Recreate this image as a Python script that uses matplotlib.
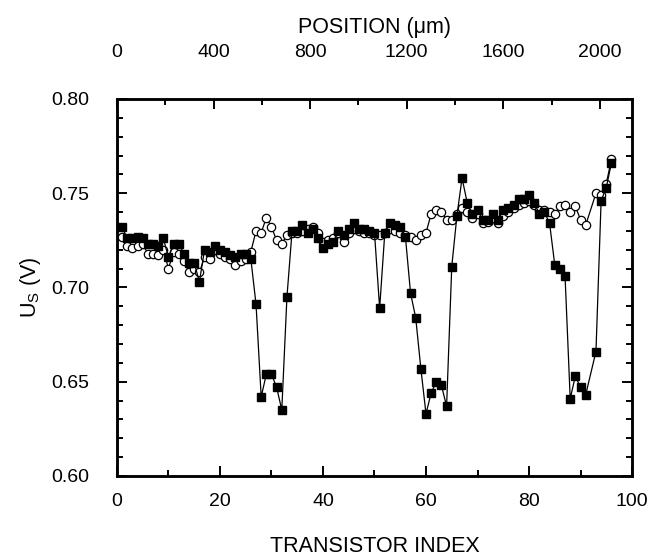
import matplotlib
matplotlib.use("Agg")
from matplotlib import pyplot as plt
from matplotlib.ticker import MultipleLocator

plt.rcParams['font.family'] = ['Liberation Sans', 'DejaVu Sans']
plt.rcParams['mathtext.fontset'] = 'custom'
plt.rcParams['mathtext.rm'] = 'Liberation Sans'

# transistor index (no measurement at 92)
index = list(range(1, 92)) + [93, 94, 95, 96]

# filled squares
us_filled = [
    0.732, 0.726, 0.726, 0.727, 0.726, 0.723, 0.723, 0.722, 0.726, 0.716,
    0.723, 0.723, 0.718, 0.713, 0.713, 0.703, 0.720, 0.719, 0.722, 0.720,
    0.719, 0.717, 0.716, 0.718, 0.718, 0.715, 0.691, 0.642, 0.654, 0.654,
    0.647, 0.635, 0.695, 0.730, 0.730, 0.733, 0.729, 0.731, 0.726, 0.721,
    0.723, 0.724, 0.730, 0.728, 0.731, 0.734, 0.731, 0.731, 0.730, 0.729,
    0.689, 0.729, 0.734, 0.733, 0.732, 0.727, 0.697, 0.684, 0.657, 0.633,
    0.644, 0.650, 0.648, 0.637, 0.711, 0.738, 0.758, 0.745, 0.739, 0.741,
    0.736, 0.736, 0.739, 0.736, 0.741, 0.742, 0.744, 0.747, 0.747, 0.749,
    0.745, 0.739, 0.740, 0.734, 0.712, 0.710, 0.706, 0.641, 0.653, 0.647,
    0.643, 0.666, 0.746, 0.753, 0.766,
]

# open circles
us_open = [
    0.727, 0.722, 0.721, 0.722, 0.723, 0.718, 0.718, 0.717, 0.720, 0.710,
    0.719, 0.718, 0.714, 0.708, 0.710, 0.708, 0.716, 0.715, 0.720, 0.718,
    0.716, 0.715, 0.712, 0.714, 0.715, 0.719, 0.730, 0.729, 0.737, 0.732,
    0.725, 0.723, 0.728, 0.729, 0.729, 0.730, 0.731, 0.732, 0.729, 0.724,
    0.725, 0.726, 0.729, 0.724, 0.729, 0.731, 0.730, 0.729, 0.729, 0.728,
    0.728, 0.729, 0.731, 0.730, 0.729, 0.728, 0.727, 0.725, 0.728, 0.729,
    0.739, 0.741, 0.740, 0.736, 0.736, 0.739, 0.742, 0.740, 0.737, 0.739,
    0.734, 0.735, 0.737, 0.734, 0.738, 0.740, 0.742, 0.744, 0.745, 0.746,
    0.744, 0.741, 0.741, 0.740, 0.739, 0.743, 0.744, 0.740, 0.743, 0.736,
    0.733, 0.750, 0.749, 0.755, 0.768,
]

fig = plt.figure(figsize=(6.55, 5.58), dpi=100)
ax = fig.add_axes([0.1786, 0.147, 0.7863, 0.6756])

ax.plot(index, us_open, '-', color='black', lw=0.9, marker='o', ms=6.0,
        mfc='white', mec='black', mew=0.9, zorder=2)
ax.plot(index, us_filled, '-', color='black', lw=0.9, marker='s', ms=6.0,
        mfc='black', mec='black', zorder=3)

ax.set_xlim(0, 100)
ax.set_ylim(0.60, 0.80)
ax.xaxis.set_major_locator(MultipleLocator(20))
ax.xaxis.set_minor_locator(MultipleLocator(10))
ax.yaxis.set_major_locator(MultipleLocator(0.05))
ax.yaxis.set_minor_locator(MultipleLocator(0.01))
ax.yaxis.set_major_formatter(plt.FormatStrFormatter('%.2f'))

ax.tick_params(which='both', direction='in', right=True, width=1.4, labelsize=14)
ax.tick_params(which='major', length=7)
ax.tick_params(which='minor', length=4)
ax.tick_params(axis='x', pad=12)
ax.tick_params(axis='y', pad=20)
for s in ax.spines.values():
    s.set_linewidth(1.8)

ax.set_xlabel('TRANSISTOR INDEX', fontsize=15.5, labelpad=19)
ax.set_ylabel('U$_\\mathrm{S}$ (V)', fontsize=15.5, labelpad=6)

# top axis in micrometres
top = ax.twiny()
top.set_xlim(0, 2133)
top.xaxis.set_major_locator(MultipleLocator(400))
top.xaxis.set_minor_locator(MultipleLocator(200))
top.tick_params(which='both', direction='in', width=1.4, labelsize=14, pad=27)
top.tick_params(which='major', length=7)
top.tick_params(which='minor', length=4)
top.set_xlabel('POSITION (\u03bcm)', fontsize=15.5, labelpad=8)
for s in top.spines.values():
    s.set_linewidth(1.8)

fig.savefig('out.png', dpi=100)
